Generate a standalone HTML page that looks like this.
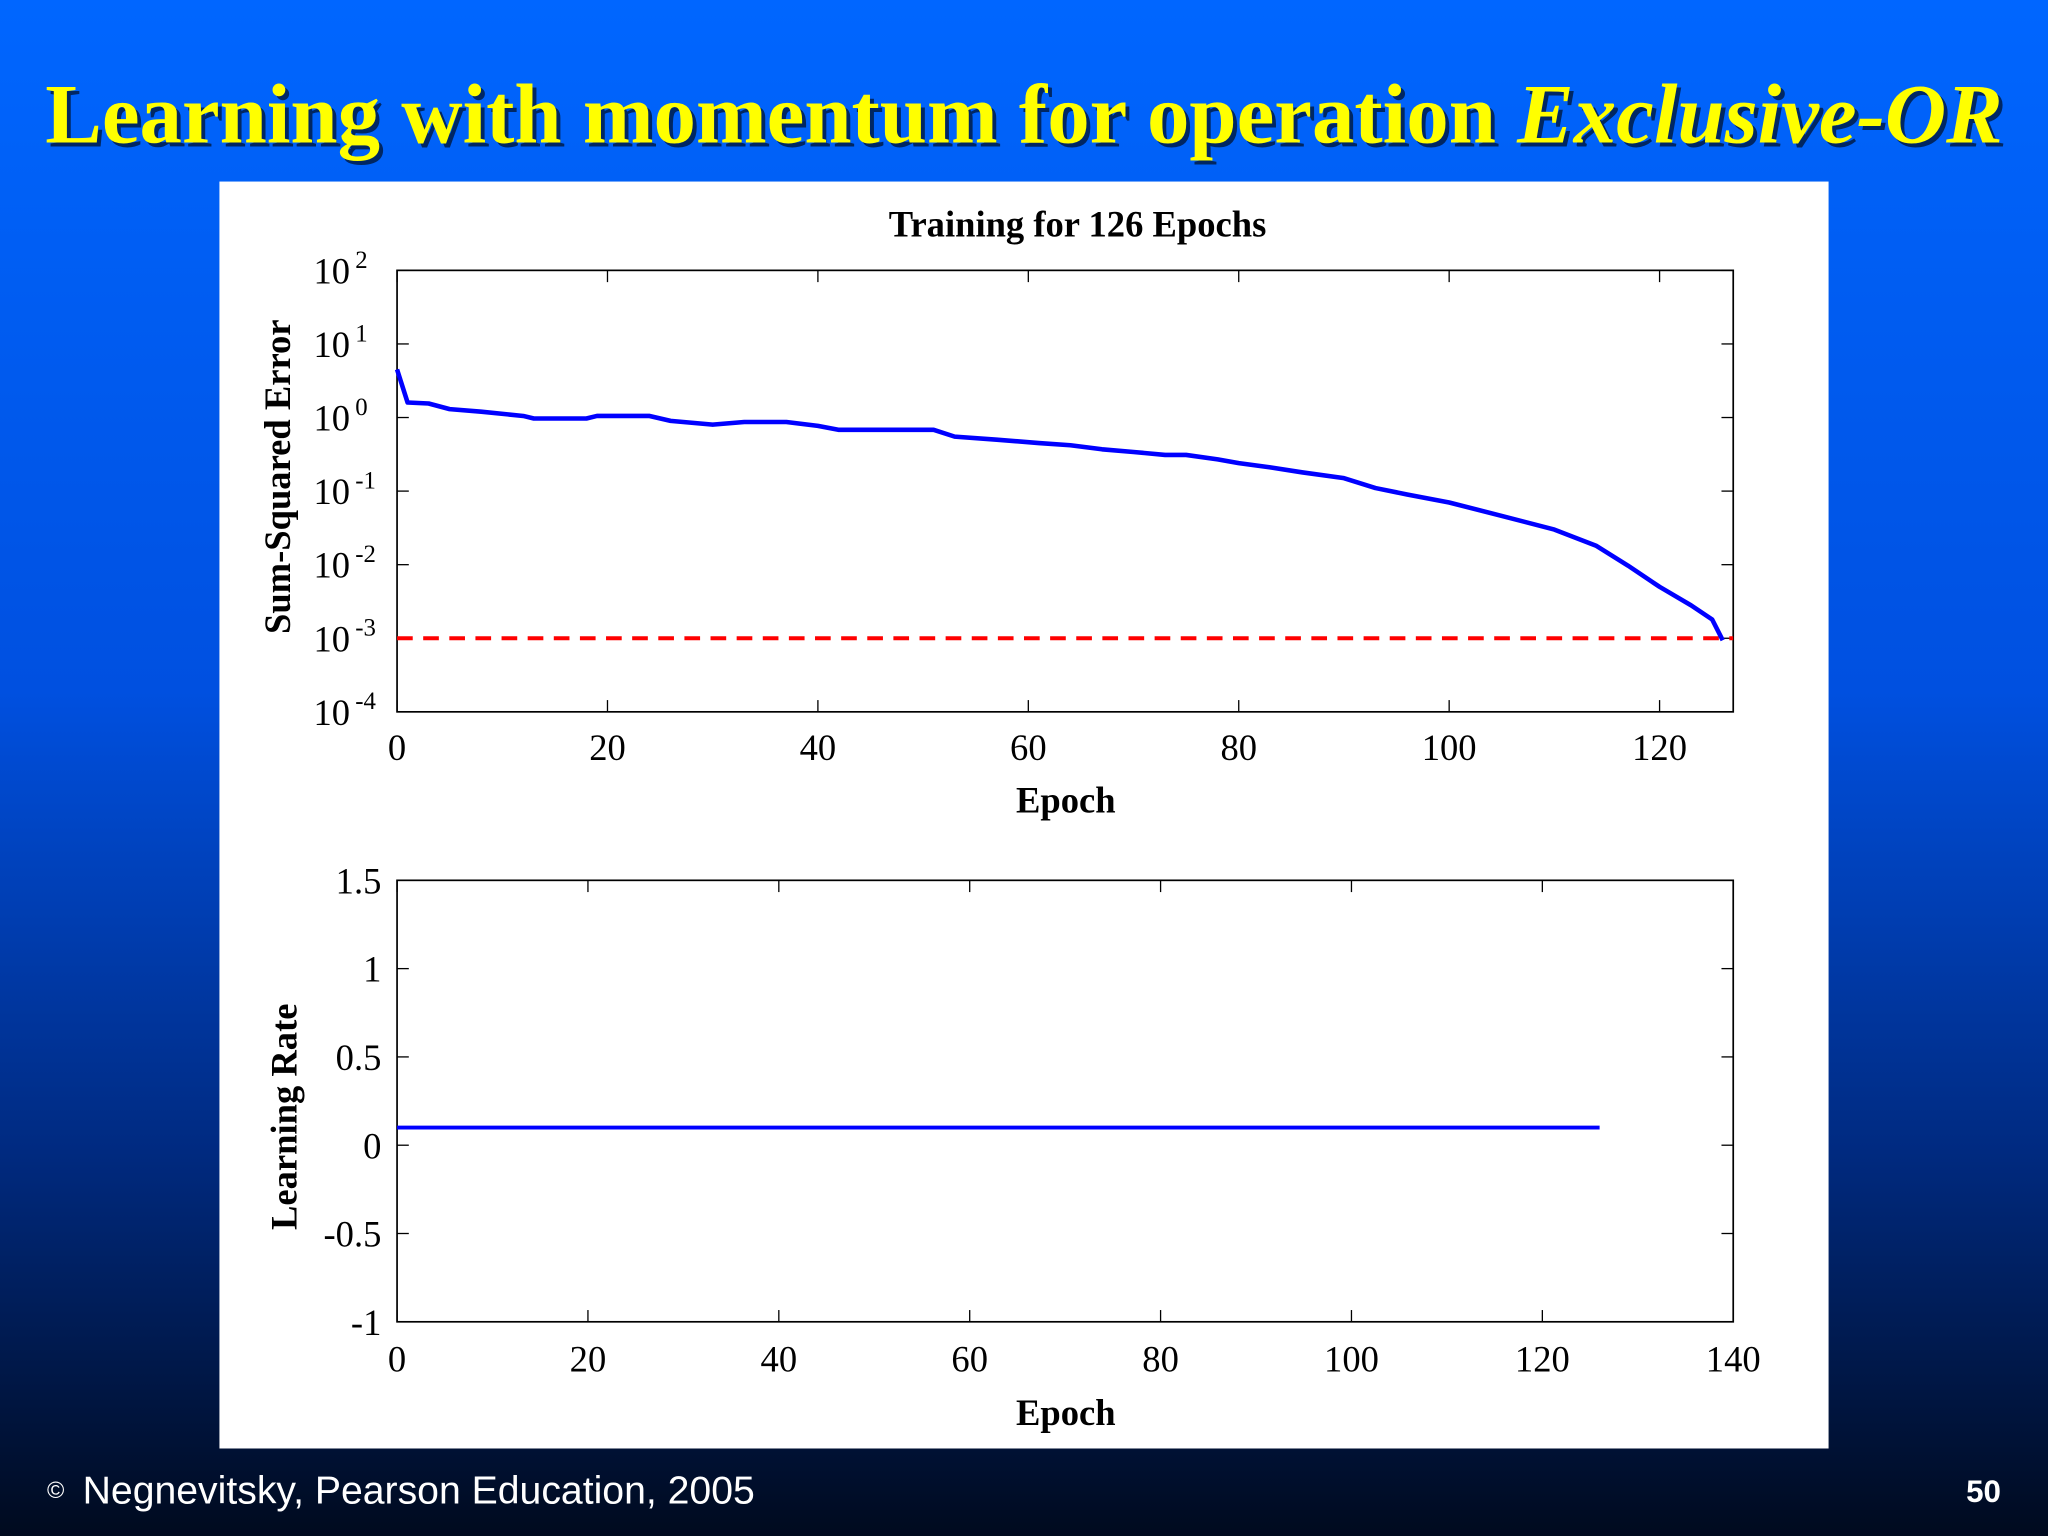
<!DOCTYPE html>
<html><head><meta charset="utf-8"><style>
html,body{margin:0;padding:0;width:2048px;height:1536px;overflow:hidden}
svg{display:block}
</style></head><body>
<svg width="2048" height="1536" viewBox="0 0 1568 1176" xmlns="http://www.w3.org/2000/svg">
<defs>
<linearGradient id="bg" x1="0" y1="0" x2="0" y2="1">
<stop offset="0" stop-color="#0066ff"/><stop offset="0.45" stop-color="#0050e0"/>
<stop offset="0.75" stop-color="#002a80"/><stop offset="1" stop-color="#000a1e"/>
</linearGradient>
</defs>
<rect width="1568" height="1176" fill="url(#bg)"/>
<text x="787" y="112" text-anchor="middle" font-family="Liberation Serif, serif" font-weight="bold" font-size="65" fill="#000" opacity="0.6">Learning with momentum for operation <tspan font-style="italic">Exclusive-OR</tspan></text>
<text x="784" y="109" text-anchor="middle" font-family="Liberation Serif, serif" font-weight="bold" font-size="65" fill="#ffff00">Learning with momentum for operation <tspan font-style="italic">Exclusive-OR</tspan></text>
<rect x="168" y="139" width="1232" height="970" fill="#fff"/>
<g id="topChart"></g>
<g id="botChart"></g>
<text x="36" y="1151" font-family="Liberation Sans, sans-serif" font-size="30" fill="#fff"><tspan font-size="18" dy="-4">©</tspan><tspan dy="4" dx="14">Negnevitsky, Pearson Education, 2005</tspan></text>
<text x="1532" y="1150" text-anchor="end" font-family="Liberation Sans, sans-serif" font-weight="bold" font-size="24" fill="#fff">50</text>
</svg>
<script>
const errEpochs=[0,1,3,5,8,12,13,18,19,24,26,30,33,37,40,42,51,53,57,61,64,67,70,73,75,78,80,83,86,90,93,96,100,105,110,114,117,120,123,125,126];
const errValues=[4.5,1.6,1.55,1.3,1.2,1.05,0.97,0.97,1.05,1.05,0.9,0.8,0.87,0.87,0.77,0.68,0.68,0.55,0.5,0.45,0.42,0.37,0.34,0.31,0.31,0.27,0.24,0.21,0.18,0.15,0.11,0.09,0.07,0.046,0.03,0.018,0.0097,0.005,0.0028,0.0018,0.00094];
const goalValue=0.001;
const topXTicks=[0,20,40,60,80,100,120];
const topYExp=[2,1,0,-1,-2,-3,-4];
const lrEpochs=[0,126];
const lrValues=[0.1,0.1];
const botXTicks=[0,20,40,60,80,100,120,140];
const botYTicks=[1.5,1,0.5,0,-0.5,-1];

(function(){
const NS="http://www.w3.org/2000/svg";
function mk(p,t,a,txt){const e=document.createElementNS(NS,t);for(const k in a)e.setAttribute(k,a[k]);if(txt!==undefined)e.textContent=txt;p.appendChild(e);return e;}
const F="Liberation Serif, serif";
const L=304,R=1327;
const tg=document.getElementById('topChart');
const T1=207,B1=545;
const x1=v=>L+v/127*(R-L);
const y1=v=>T1+(2-Math.log10(v))/6*(B1-T1);
let r=mk(tg,'rect',{x:L,y:T1,width:R-L,height:B1-T1,fill:'none',stroke:'#000','stroke-width':1.3});


topXTicks.forEach(t=>{const x=x1(t);
 mk(tg,'line',{x1:x,x2:x,y1:B1,y2:B1-9,stroke:'#000'});mk(tg,'line',{x1:x,x2:x,y1:T1,y2:T1+9,stroke:'#000'});
 const e=mk(tg,'text',{x:x,y:B1+37,'text-anchor':'middle','font-family':F,'font-size':28},t);
 
 });
topYExp.forEach(p=>{const y=y1(Math.pow(10,p));
 mk(tg,'line',{x1:L,x2:L+9,y1:y,y2:y,stroke:'#000'});mk(tg,'line',{x1:R,x2:R-9,y1:y,y2:y,stroke:'#000'});
 const e=mk(tg,'text',{x:240,y:y+10,'font-family':F,'font-size':28},'10');
 mk(e,'tspan',{dy:-12,'font-size':19,dx:4},String(p));
 
 });
let g=mk(tg,'line',{x1:L,x2:R,y1:y1(goalValue),y2:y1(goalValue),stroke:'#ff0000','stroke-width':3,'stroke-dasharray':'12,8'});


let pl=mk(tg,'polyline',{points:errEpochs.map((e,i)=>x1(e)+','+y1(errValues[i])).join(' '),fill:'none',stroke:'#0000ff','stroke-width':3.5,'stroke-linejoin':'round'});


let t=mk(tg,'text',{x:825,y:181,'text-anchor':'middle','font-family':F,'font-weight':'bold','font-size':28},'Training for 126 Epochs');


t=mk(tg,'text',{x:816,y:622,'text-anchor':'middle','font-family':F,'font-weight':'bold','font-size':28},'Epoch');


t=mk(tg,'text',{x:0,y:0,transform:'translate(222,365) rotate(-90)','text-anchor':'middle','font-family':F,'font-weight':'bold','font-size':28},'Sum-Squared Error');



const bg=document.getElementById('botChart');
const T2=674,B2=1012;
const x2=v=>L+v/140*(R-L);
const y2=v=>B2-(v+1)/2.5*(B2-T2);
r=mk(bg,'rect',{x:L,y:T2,width:R-L,height:B2-T2,fill:'none',stroke:'#000','stroke-width':1.3});


botXTicks.forEach(t=>{const x=x2(t);
 mk(bg,'line',{x1:x,x2:x,y1:B2,y2:B2-9,stroke:'#000'});mk(bg,'line',{x1:x,x2:x,y1:T2,y2:T2+9,stroke:'#000'});
 const e=mk(bg,'text',{x:x,y:B2+38,'text-anchor':'middle','font-family':F,'font-size':28},t);
 
 });
botYTicks.forEach(v=>{const y=y2(v);
 mk(bg,'line',{x1:L,x2:L+9,y1:y,y2:y,stroke:'#000'});mk(bg,'line',{x1:R,x2:R-9,y1:y,y2:y,stroke:'#000'});
 const e=mk(bg,'text',{x:292,y:y+10,'text-anchor':'end','font-family':F,'font-size':28},v);
 
 });
pl=mk(bg,'polyline',{points:lrEpochs.map((e,i)=>x2(e)+','+y2(lrValues[i])).join(' '),fill:'none',stroke:'#0000ff','stroke-width':3});


t=mk(bg,'text',{x:816,y:1091,'text-anchor':'middle','font-family':F,'font-weight':'bold','font-size':28},'Epoch');


t=mk(bg,'text',{x:0,y:0,transform:'translate(227,855) rotate(-90)','text-anchor':'middle','font-family':F,'font-weight':'bold','font-size':28},'Learning Rate');


})();
</script>
</body></html>
